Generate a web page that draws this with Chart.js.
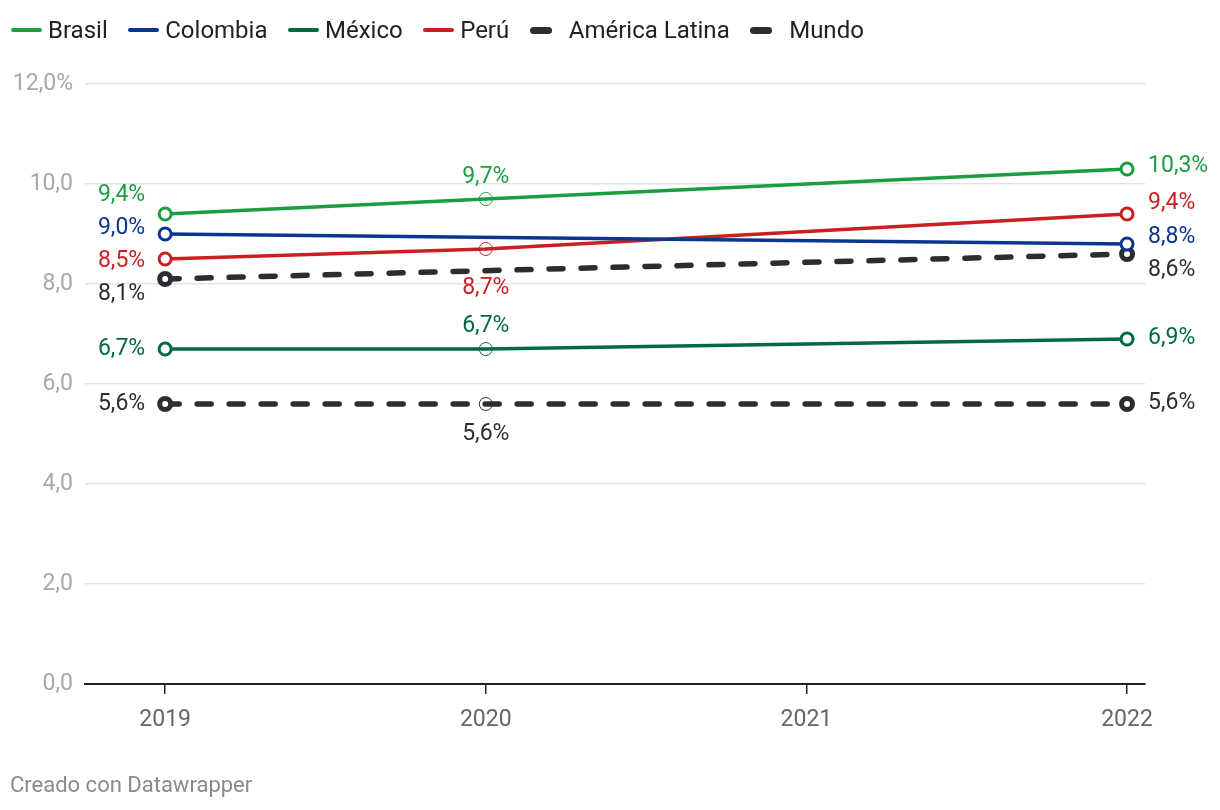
<!DOCTYPE html>
<html>
<head>
<meta charset="utf-8">
<script src="https://cdn.jsdelivr.net/npm/chart.js@4"></script>
<style>
  body { margin: 0; background: #fff; font-family: Roboto, sans-serif; }
  #wrap { position: relative; width: 1220px; height: 810px; }
  #legend { position: absolute; left: 11px; top: 16px; display: flex; align-items: center; font-size: 24px; color: #222; }
  .item { display: flex; align-items: center; margin-right: 20.5px; }
  .sw { display: inline-block; width: 31px; height: 4px; border-radius: 2px; margin-right: 6px; }
  .sw.dash { width: 22px; height: 7px; border-radius: 4px; margin-right: 17px; }
  #credit { position: absolute; left: 10px; top: 772px; font-size: 22px; color: #8a8a8a; }
</style>
</head>
<body>
<div id="wrap">
  <canvas id="myChart" width="1220" height="810"></canvas>
  <div id="legend"></div>
  <div id="credit">Creado con Datawrapper</div>
</div>
<script>
const years = [2019, 2020, 2021, 2022];
const seriesNames = ["Brasil", "Colombia", "México", "Perú", "América Latina", "Mundo"];
const brasil   = [9.4, 9.7, null, 10.3];
const colombia = [9.0, null, null, 8.8];
const mexico   = [6.7, 6.7, null, 6.9];
const peru     = [8.5, 8.7, null, 9.4];
const amLatina = [8.1, null, null, 8.6];
const mundo    = [5.6, 5.6, null, 5.6];
const yTicks = [0, 2, 4, 6, 8, 10, 12];

const colors = ["#1a9e3f", "#0b3591", "#03693e", "#c91f22", "#2d2d31", "#2d2d31"];
const dashed = [false, false, false, false, true, true];

// label offsets [dx, dy] per point (2019, 2020, 2021, 2022)
const labelPos = [
  [[-20, -19], [0, -22], null, [21, -3]],
  [[-20, -6], null, null, [21, -7]],
  [[-20, 0], [0, -23], null, [21, -1]],
  [[-20, 2], [0, 39], null, [21, -11]],
  [[-20, 15], null, null, [21, 16]],
  [[-20, 0], [0, 30], null, [21, -1]]
];

const allValues = [brasil, colombia, mexico, peru, amLatina, mundo];

function fmt(v) { return v.toFixed(1).replace('.', ',') + '%'; }

const datasets = allValues.map((vals, s) => {
  const pts = [];
  vals.forEach((v, i) => { if (v !== null) pts.push({ x: years[i], y: v, i: i }); });
  return {
    label: seriesNames[s],
    data: pts,
    borderColor: colors[s],
    borderWidth: dashed[s] ? 5.5 : 3.5,
    borderDash: dashed[s] ? [14, 18] : [],
    borderCapStyle: dashed[s] ? 'round' : 'butt',
    fill: false,
    tension: 0,
    pointRadius: pts.map(p => p.x === 2020 ? 6.5 : (dashed[s] ? 5.5 : 6)),
    pointBorderWidth: pts.map(p => p.x === 2020 ? 1 : (dashed[s] ? 5 : 3)),
    pointBackgroundColor: pts.map(p => p.x === 2020 ? 'rgba(0,0,0,0)' : '#fff'),
    pointBorderColor: colors[s],
    pointHoverRadius: 6
  };
});

const labelPlugin = {
  id: 'pointLabels',
  afterDatasetsDraw(chart) {
    const ctx = chart.ctx;
    ctx.save();
    ctx.font = '23px Roboto, sans-serif';
    ctx.textBaseline = 'middle';
    chart.data.datasets.forEach((ds, s) => {
      const meta = chart.getDatasetMeta(s);
      meta.data.forEach((el, k) => {
        const p = ds.data[k];
        const off = labelPos[s][p.i];
        if (!off) return;
        ctx.fillStyle = colors[s];
        ctx.textAlign = off[0] < 0 ? 'right' : (off[0] > 0 ? 'left' : 'center');
        ctx.fillText(fmt(p.y), el.x + off[0], el.y + off[1]);
      });
    });
    ctx.restore();
  }
};

new Chart(document.getElementById('myChart'), {
  type: 'line',
  data: { datasets: datasets },
  plugins: [labelPlugin],
  options: {
    responsive: false,
    animation: false,
    layout: { padding: { left: 10, top: 84, right: 75, bottom: 0 } },
    plugins: { legend: { display: false }, tooltip: { enabled: false } },
    scales: {
      x: {
        type: 'linear',
        min: 2018.75,
        max: 2022.056,
        afterBuildTicks: axis => { axis.ticks = years.map(y => ({ value: y })); },
        afterFit: axis => { axis.height = 126; },
        grid: { drawOnChartArea: false, drawTicks: true, tickLength: 10, color: '#222', lineWidth: 1.5 },
        border: { color: '#222', width: 2 },
        ticks: { color: '#666', font: { family: 'Roboto', size: 23 }, padding: 12, callback: v => String(v) }
      },
      y: {
        min: 0,
        max: 12,
        afterBuildTicks: axis => { axis.ticks = yTicks.map(v => ({ value: v })); },
        afterFit: axis => { axis.width = 75; },
        grid: { color: '#e2e2e2', lineWidth: 1.5, drawTicks: false },
        border: { display: false },
        ticks: {
          color: '#a8a8a8', font: { family: 'Roboto', size: 23 }, padding: 12,
          callback: v => v === 12 ? '12,0%' : v.toFixed(1).replace('.', ',')
        }
      }
    }
  }
});

const legend = document.getElementById('legend');
seriesNames.forEach((n, s) => {
  const item = document.createElement('div');
  item.className = 'item';
  item.innerHTML = `<span class="sw${dashed[s] ? ' dash' : ''}" style="background:${colors[s]}"></span><span>${n}</span>`;
  legend.appendChild(item);
});
</script>
</body>
</html>
